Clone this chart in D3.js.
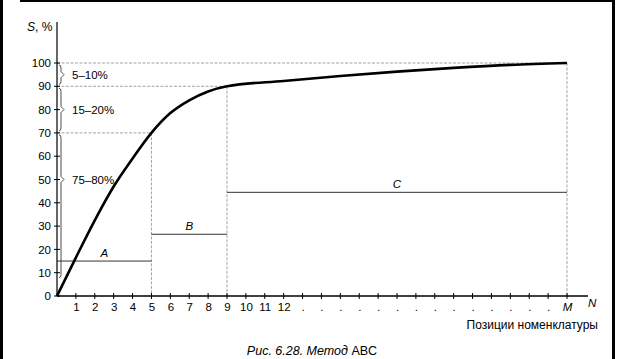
<!DOCTYPE html>
<html><head><meta charset="utf-8">
<script src="https://cdn.jsdelivr.net/npm/d3@7"></script>
<style>body{margin:0;background:#fff}svg{display:block;font-family:"Liberation Sans",Arial,sans-serif}</style>
</head><body><svg id="c" width="617" height="359"></svg>
<script>
// ---- data ----
const curveX = [0, 1, 2, 3, 4, 5, 6, 7, 8, 9, 12, 15, 18, 21, 24, 27];
const curveY = [0, 16.5, 32.5, 47, 59, 70, 78.5, 84, 87.8, 90, 92.3, 94.4, 96.3, 97.9, 99.2, 100];
const yTicks = [0, 10, 20, 30, 40, 50, 60, 70, 80, 90, 100];
const xTickValues = [1,2,3,4,5,6,7,8,9,10,11,12,13,14,15,16,17,18,19,20,21,22,23,24,25,26,27];
const xTickLabels = ["1","2","3","4","5","6","7","8","9","10","11","12",".",".",".",".",".",".",".",".",".",".",".",".",".",".","M"];
const groupNames = ["A", "B", "C"];
const groupStart = [0, 5, 9];
const groupEnd = [5, 9, 27];
const groupLevel = [15, 26.5, 44.5];
const bounds = [5, 9, 27];
const boundLevels = [70, 90, 100];
const shareLabels = ["5–10%", "15–20%", "75–80%"];
const shareFrom = [100, 90, 70];
const shareTo = [90, 70, 7];
const shareMid = [95, 80, 50];

const svg = d3.select("#c");
const x = d3.scaleLinear().domain([0, 27]).range([57, 567]);
const y = d3.scaleLinear().domain([0, 100]).range([296, 63]);

// frame
svg.append("rect").attr("x",0).attr("y",0).attr("width",3).attr("height",359).attr("fill","#000");
svg.append("rect").attr("x",20).attr("y",0).attr("width",595).attr("height",2).attr("fill","#000");
svg.append("rect").attr("x",612).attr("y",0).attr("width",3).attr("height",359).attr("fill","#000");

// guide lines
const g = svg.append("g").attr("stroke","#999").attr("stroke-width",0.9).attr("stroke-dasharray","3,1.5").attr("fill","none");
bounds.forEach((b,i)=>{
  g.append("line").attr("x1",x(0)).attr("x2",x(b)).attr("y1",y(boundLevels[i])).attr("y2",y(boundLevels[i]));
  g.append("line").attr("x1",x(b)).attr("x2",x(b)).attr("y1",y(boundLevels[i])).attr("y2",y(0));
});

// group segments
groupNames.forEach((n,i)=>{
  svg.append("line").attr("x1",x(groupStart[i])).attr("x2",x(groupEnd[i]))
    .attr("y1",y(groupLevel[i])).attr("y2",y(groupLevel[i])).attr("stroke","#333").attr("stroke-width",1);
  svg.append("text").attr("x",x((groupStart[i]+groupEnd[i])/2)).attr("y",y(groupLevel[i])-4)
    .attr("text-anchor","middle").attr("font-size",11.5).attr("font-style","italic").text(n);
});

// y axis
const yAxis = d3.axisLeft(y).tickValues(yTicks).tickSize(0).tickPadding(6);
const ya = svg.append("g").attr("transform","translate(57,0)").call(yAxis);
ya.select(".domain").remove();
ya.selectAll("text").attr("font-size",11.5).attr("font-family","Liberation Sans, Arial, sans-serif").attr("fill","#000");
svg.append("line").attr("x1",57).attr("x2",57).attr("y1",22).attr("y2",296).attr("stroke","#000").attr("stroke-width",1.2);
yTicks.forEach(t=>svg.append("line").attr("x1",54).attr("x2",60).attr("y1",y(t)).attr("y2",y(t)).attr("stroke","#000"));

// x axis
const xAxis = d3.axisBottom(x).tickValues(xTickValues).tickSize(0).tickPadding(7)
  .tickFormat((d,i)=>xTickLabels[i]);
const xa = svg.append("g").attr("transform","translate(0,296)").call(xAxis);
xa.select(".domain").remove();
xa.selectAll("text").attr("font-size",11.5).attr("font-family","Liberation Sans, Arial, sans-serif").attr("fill","#000")
  .attr("font-style",(d,i)=>xTickLabels[i]==="M"?"italic":"normal");
svg.append("line").attr("x1",57).attr("x2",588).attr("y1",296).attr("y2",296).attr("stroke","#000").attr("stroke-width",1.3);
xTickValues.forEach(t=>svg.append("line").attr("x1",x(t)).attr("x2",x(t)).attr("y1",293).attr("y2",299).attr("stroke","#000"));
svg.append("text").attr("x",588).attr("y",307).attr("font-size",11.5).attr("font-style","italic").text("N");
svg.append("text").attr("x",598).attr("y",329).attr("text-anchor","end").attr("font-size",12).text("Позиции номенклатуры");

// axis title
const st = svg.append("text").attr("x",27).attr("y",31).attr("font-size",12);
st.append("tspan").attr("font-style","italic").text("S");
st.append("tspan").text(", %");

// braces
shareLabels.forEach((s,i)=>{
  const y1 = y(shareFrom[i])+2, y2 = y(shareTo[i])-2, ym = y(shareMid[i]);
  const xb = 60;
  svg.append("path").attr("d",`M${xb-1},${y1} Q${xb+1},${y1} ${xb+1},${y1+3} L${xb+1},${ym-3} L${xb+4},${ym} L${xb+1},${ym+3} L${xb+1},${y2-3} Q${xb+1},${y2} ${xb-1},${y2}`)
    .attr("fill","none").attr("stroke","#222").attr("stroke-width",0.8);
  svg.append("text").attr("x",72).attr("y",ym+4).attr("font-size",11.5).text(s);
});

// curve
const pts = curveX.map((d,i)=>[d,curveY[i]]);
svg.append("path").datum(pts).attr("fill","none").attr("stroke","#000").attr("stroke-width",2.6)
  .attr("d",d3.line().x(d=>x(d[0])).y(d=>y(d[1])).curve(d3.curveMonotoneX));

// caption
const cap = svg.append("text").attr("x",312).attr("y",355).attr("text-anchor","middle").attr("font-size",12.5);
cap.append("tspan").attr("font-style","italic").text("Рис. 6.28. Метод ");
cap.append("tspan").text("ABC");
</script></body></html>
